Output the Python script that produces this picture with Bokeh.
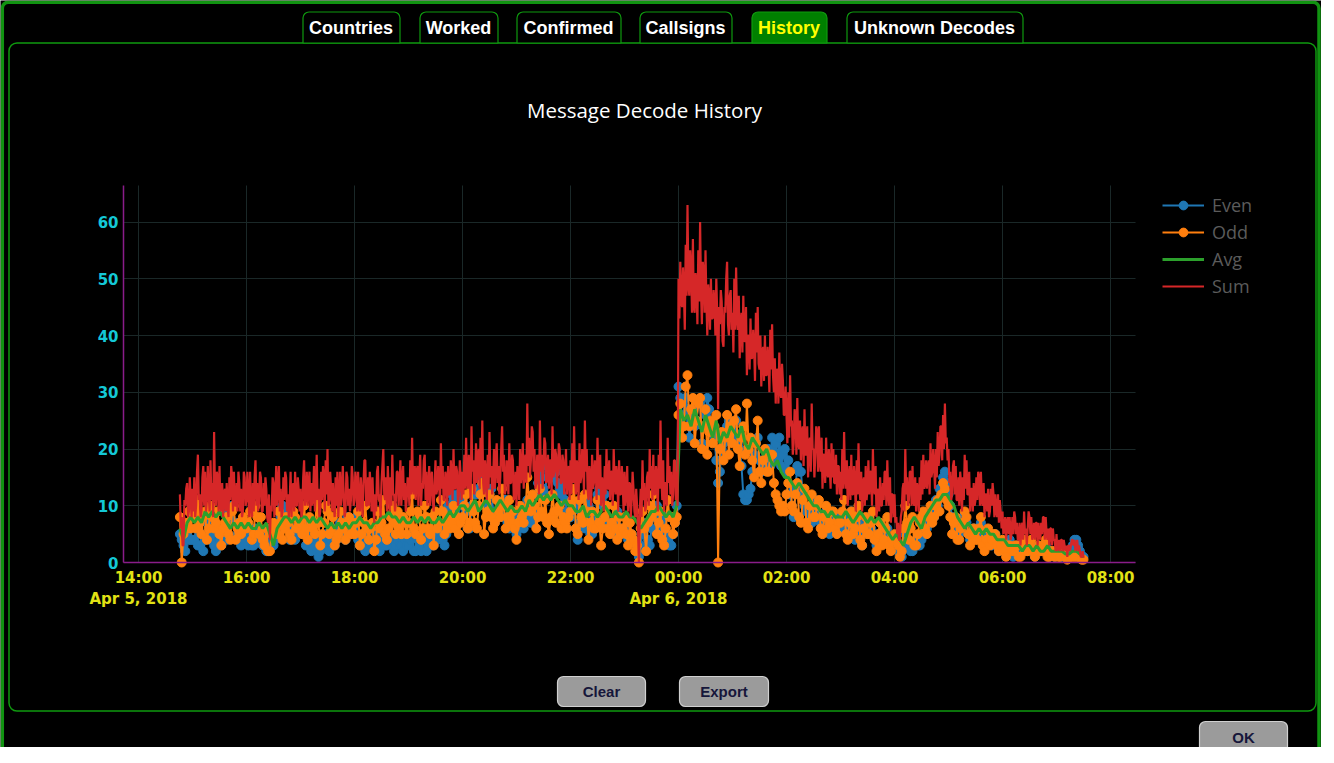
import pandas as pd
from bokeh.plotting import figure
from bokeh.models import (Range1d, DatetimeAxis, LinearAxis, FixedTicker, Grid,
                          Legend, LegendItem, BoxAnnotation, ColumnDataSource)
from bokeh.core.properties import value
from bokeh.embed import file_html
from bokeh.resources import INLINE

# ---------------- data -------------
# Sum: 1-minute slots from 14:46
sum_vals = ([12, 6, 8, 3, 3, 11, 10, 13, 14, 8, 9, 15, 11, 8] +
    [13, 9, 15, 8, 10, 16, 19, 11, 12, 8, 9, 15, 17, 10, 16, 9, 11, 17, 12, 9, 18, 11, 14, 8, 23, 12, 10, 16, 15, 9,
     17, 10, 9, 14, 8, 12, 13, 9, 14, 10, 8, 15, 11, 17, 15, 9, 16, 10, 10, 14, 9, 16, 14, 9, 13, 8, 9, 16, 15, 10] +
    [11, 16, 12, 8, 16, 10, 8, 14, 9, 15, 18, 10, 14, 9, 11, 16, 15, 9, 9, 14, 10, 15, 13, 8, 7, 12, 4, 10, 9, 15,
     14, 8, 12, 17, 10, 14, 17, 9, 13, 8, 9, 15, 11, 16, 15, 9, 12, 8, 11, 16, 8, 13, 14, 9, 16, 10, 10, 15, 13, 9] +
    [13, 8, 9, 15, 18, 10, 12, 16, 10, 14, 16, 9, 14, 10, 12, 17, 9, 13, 19, 11, 13, 8, 9, 16, 11, 17, 15, 9, 18, 12,
     20, 10, 11, 16, 13, 9, 14, 10, 8, 15, 10, 16, 8, 12, 16, 10, 12, 17, 12, 8, 9, 16, 15, 10, 13, 9, 11, 17, 15, 10] +
    [11, 16, 14, 9, 16, 10, 9, 15, 12, 8, 14, 18, 18, 10, 10, 15, 10, 16, 13, 9, 15, 10, 7, 12, 9, 16, 17, 11, 12, 8,
     14, 17, 20, 12, 11, 15, 9, 17, 13, 9, 15, 10, 19, 12, 12, 9, 11, 16, 16, 10, 13, 18, 10, 14, 17, 11, 14, 9, 11, 15] +
    [14, 10, 18, 12, 22, 13, 12, 17, 11, 16, 17, 10, 15, 19, 10, 14, 13, 18, 19, 11, 16, 10, 13, 17, 10, 15, 16, 11, 9, 14,
     18, 12, 13, 17, 14, 10, 21, 13, 17, 11, 11, 16, 15, 10, 17, 12, 12, 18, 15, 11, 20, 13, 13, 17, 16, 10, 12, 18, 15, 11] +
    [16, 12, 19, 13, 22, 14, 13, 19, 15, 11, 24, 16, 18, 12, 15, 21, 14, 19, 20, 13, 22, 15, 25, 14, 12, 18, 16, 11, 19, 13,
     23, 15, 17, 12, 14, 20, 13, 18, 21, 14, 17, 12, 15, 20, 24, 16, 19, 12, 13, 18, 17, 12, 21, 14, 14, 19, 18, 11, 12, 16] +
    [10, 17, 15, 11, 20, 14, 16, 21, 13, 18, 19, 14, 28, 17, 22, 15, 18, 24, 23, 16, 20, 13, 14, 19, 17, 12, 25, 16, 19, 13,
     17, 22, 21, 14, 15, 19, 13, 18, 18, 12, 24, 15, 16, 20, 19, 13, 16, 21, 20, 14, 14, 19, 18, 12, 15, 20, 12, 16, 17, 11] +
    [18, 12, 21, 14, 24, 15, 12, 18, 16, 11, 21, 14, 15, 20, 18, 12, 25, 16, 20, 13, 11, 17, 15, 10, 19, 13, 14, 18, 17, 11,
     22, 14, 13, 19, 10, 15, 14, 9, 17, 12, 20, 13, 13, 18, 11, 16, 16, 10, 20, 14, 12, 17, 15, 9, 18, 12, 12, 17, 14, 9] +
    [16, 10, 12, 17, 9, 14, 14, 8, 11, 16, 13, 9, 8, 13, 10, 6, 0, 9, 13, 8, 18, 11, 14, 9, 10, 15, 16, 10, 20, 13,
     17, 11, 19, 12, 12, 17, 15, 9, 19, 13, 25, 15, 11, 18, 9, 14, 14, 10, 22, 14, 17, 12, 16, 10, 12, 18, 18, 11, 16, 10] +
    [50, 43, 53, 46, 45, 52, 48, 41, 56, 47, 63, 49, 47, 55, 52, 44, 57, 45, 44, 51, 49, 42, 55, 46, 60, 48, 42, 53, 51, 44,
     55, 46, 40, 49, 47, 41, 50, 43, 43, 48, 46, 40, 50, 44, 27, 45, 42, 48, 46, 39, 38, 45, 44, 50, 53, 42, 40, 47, 48, 41] +
    [44, 37, 50, 41, 52, 43, 41, 47, 36, 42, 44, 37, 47, 39, 39, 45, 33, 40, 40, 34, 43, 36, 36, 41, 38, 32, 44, 37, 45, 35,
     34, 40, 31, 37, 38, 32, 40, 33, 33, 38, 35, 30, 41, 34, 42, 33, 30, 36, 28, 34, 34, 28, 37, 30, 29, 35, 32, 26, 26, 31] +
    [26, 21, 30, 22, 33, 24, 25, 19, 21, 27, 26, 19, 29, 21, 20, 25, 18, 23, 24, 17, 27, 19, 19, 24, 15, 21, 22, 16, 28, 20,
     20, 15, 19, 24, 23, 16, 24, 18, 16, 22, 13, 19, 19, 14, 22, 16, 15, 20, 17, 13, 21, 15, 20, 14, 14, 19, 12, 17, 17, 12] +
    [16, 11, 20, 13, 23, 15, 13, 18, 10, 15, 17, 11, 19, 12, 12, 17, 14, 9, 18, 12, 21, 13, 11, 16, 9, 14, 15, 10, 17, 11,
     13, 18, 12, 16, 16, 10, 20, 13, 12, 17, 8, 12, 13, 9, 15, 10, 10, 14, 11, 16, 16, 10, 18, 12, 10, 15, 7, 12, 12, 8] +
    [12, 7, 8, 5, 7, 4, 4, 8, 9, 13, 14, 9, 20, 12, 15, 10, 11, 16, 16, 10, 17, 11, 10, 15, 9, 14, 13, 9, 15, 11,
     18, 12, 19, 13, 14, 18, 13, 17, 18, 12, 21, 15, 16, 20, 17, 13, 20, 15, 23, 17, 19, 24, 24, 18, 26, 20, 28, 21, 22, 18] +
    [20, 14, 16, 11, 12, 17, 18, 12, 17, 11, 11, 15, 10, 16, 14, 9, 15, 11, 19, 13, 18, 12, 12, 16, 9, 13, 13, 9, 14, 10,
     11, 15, 11, 16, 15, 10, 16, 11, 10, 14, 8, 12, 12, 9, 13, 8, 9, 13, 10, 14, 12, 8, 12, 9, 8, 12, 7, 11, 9, 6] +
    [9, 5, 6, 8, 4, 7, 8, 5, 8, 4, 5, 8, 5, 9, 8, 5, 7, 4, 4, 7, 3, 6, 7, 4, 9, 5, 6, 3, 6, 9,
     8, 5, 8, 4, 5, 7, 4, 7, 7, 3, 7, 5, 4, 7, 5, 8, 8, 4, 8, 5, 4, 6, 3, 6, 6, 3, 6, 4, 4, 2] +
    [5, 2, 3, 4, 2, 4, 4, 2, 4, 3, 2, 3, 1, 3, 3, 2, 3, 4, 4, 3, 4, 2, 3, 4, 2, 3, 2, 1, 1, 2, 1, 1])

# Odd and Even: 2-minute slots from 14:46
odd_vals = ([8, 0, 5, 7, 6, 9, 6] +
    [8, 9, 6, 11, 7, 5, 8, 9, 4, 6, 10, 8, 6, 7, 9, 5, 3, 6, 7, 8, 5, 4, 9, 10, 4, 6, 7, 5, 8, 6] +
    [6, 7, 9, 4, 5, 10, 8, 5, 8, 4, 3, 6, 2, 2, 5, 7, 6, 5, 9, 7, 4, 6, 8, 7, 5, 4, 9, 8, 6, 7] +
    [7, 5, 10, 6, 4, 8, 7, 6, 5, 11, 7, 3, 5, 7, 10, 9, 5, 6, 8, 3, 4, 5, 9, 7, 6, 4, 7, 8, 5, 7] +
    [5, 7, 9, 3, 5, 7, 10, 6, 4, 6, 7, 2, 4, 9, 6, 7, 11, 5, 4, 6, 8, 10, 7, 5, 9, 6, 5, 8, 7, 5] +
    [7, 9, 12, 6, 5, 9, 8, 4, 6, 10, 8, 6, 5, 8, 3, 9, 6, 7, 11, 9, 5, 7, 8, 6, 7, 10, 6, 8, 5, 7] +
    [8, 10, 12, 6, 7, 13, 9, 7, 6, 10, 12, 14, 5, 8, 9, 12, 8, 6, 7, 11, 9, 8, 13, 10, 6, 8, 11, 7, 9, 6] +
    [4, 7, 10, 8, 7, 9, 15, 11, 9, 12, 10, 6, 8, 13, 9, 8, 11, 7, 5, 8, 12, 9, 7, 9, 10, 6, 8, 7, 6, 8] +
    [9, 11, 13, 6, 5, 11, 8, 7, 12, 9, 4, 7, 9, 6, 6, 11, 7, 3, 6, 8, 10, 6, 5, 7, 10, 6, 4, 8, 5, 6] +
    [8, 5, 3, 7, 5, 4, 2, 3, 0, 6, 9, 6, 2, 7, 10, 8, 12, 9, 5, 7, 9, 4, 3, 6, 11, 8, 8, 5, 7, 8] +
    [26, 28, 22, 24, 31, 33, 24, 27, 29, 21, 25, 28, 29, 20, 24, 27, 19, 23, 25, 21, 24, 26, 0, 20, 23, 18, 22, 26, 19, 24] +
    [21, 25, 27, 20, 17, 22, 24, 19, 28, 20, 22, 18, 15, 21, 25, 16, 14, 18, 20, 16, 16, 19, 19, 14, 12, 11, 10, 9, 10, 9] +
    [12, 14, 16, 10, 9, 12, 14, 8, 7, 11, 13, 7, 6, 10, 12, 8, 8, 10, 11, 6, 5, 8, 10, 6, 7, 9, 9, 6, 5, 7] +
    [7, 9, 11, 5, 4, 7, 9, 5, 6, 8, 10, 4, 3, 6, 8, 5, 5, 7, 9, 4, 2, 5, 7, 3, 4, 6, 8, 3, 2, 4] +
    [5, 4, 3, 1, 2, 6, 10, 7, 4, 6, 8, 3, 3, 5, 7, 8, 9, 6, 5, 8, 10, 7, 8, 10, 11, 9, 12, 14, 13, 11] +
    [10, 8, 5, 7, 8, 4, 4, 6, 7, 9, 8, 5, 3, 5, 6, 4, 4, 6, 8, 3, 2, 4, 6, 3, 4, 5, 5, 3, 2, 3] +
    [4, 2, 1, 3, 3, 2, 2, 3, 3, 1, 1, 3, 4, 2, 2, 3, 4, 2, 1, 2, 3, 2, 2, 3, 4, 1, 1, 2, 2, 1] +
    [2, 1, 1, 2, 2, 1, 0.5, 1, 1, 1, 1, 1, 1, 1, 0.5, 0.5])

even_vals = ([5, 4, 3, 2, 5, 4, 4] +
    [4, 4, 6, 3, 3, 5, 2, 4, 7, 5, 4, 5, 3, 2, 6, 4, 3, 5, 6, 4, 9, 8, 10, 7, 7, 5, 4, 3, 5, 4] +
    [5, 3, 4, 3, 3, 6, 4, 5, 5, 3, 3, 2, 2, 4, 5, 3, 4, 5, 9, 8, 10, 9, 8, 6, 4, 5, 6, 4, 5, 6] +
    [6, 5, 5, 3, 3, 7, 2, 3, 4, 2, 1, 2, 3, 4, 5, 3, 2, 4, 6, 3, 4, 5, 7, 6, 5, 4, 8, 6, 7, 6] +
    [6, 8, 4, 3, 3, 5, 2, 3, 4, 3, 3, 4, 5, 3, 2, 4, 4, 3, 3, 4, 5, 3, 2, 3, 4, 3, 3, 2, 4, 3] +
    [3, 4, 5, 2, 2, 4, 3, 2, 5, 4, 2, 3, 4, 3, 3, 5, 4, 5, 6, 4, 3, 5, 10, 8, 12, 11, 9, 12, 10, 11] +
    [11, 10, 9, 6, 6, 10, 13, 12, 12, 13, 15, 14, 14, 13, 10, 12, 13, 9, 7, 8, 9, 10, 8, 11, 11, 7, 6, 8, 7, 6] +
    [5, 6, 8, 7, 6, 9, 11, 8, 7, 10, 9, 12, 14, 16, 15, 13, 12, 17, 17, 15, 15, 16, 16, 14, 13, 12, 14, 11, 9, 8] +
    [8, 9, 10, 6, 4, 7, 9, 8, 6, 11, 10, 5, 5, 7, 8, 12, 13, 14, 10, 12, 10, 7, 7, 6, 5, 7, 9, 6, 6, 5] +
    [6, 5, 4, 5, 5, 4, 3, 2, 1, 3, 5, 6, 7, 4, 3, 6, 8, 9, 10, 8, 6, 7, 8, 5, 4, 3, 3, 5, 7, 10] +
    [31, 29, 24, 26, 29, 27, 22, 25, 27, 24, 25, 28, 28, 21, 24, 26, 29, 27, 24, 23, 22, 18, 14, 16, 20, 21, 22, 24, 25, 23] +
    [22, 23, 25, 21, 20, 17, 12, 11, 11, 12, 13, 16, 19, 21, 22, 18, 16, 17, 18, 19, 20, 17, 22, 19, 21, 18, 22, 17, 19, 20] +
    [16, 18, 12, 10, 8, 13, 17, 16, 16, 12, 10, 9, 9, 8, 7, 9, 11, 10, 8, 7, 6, 8, 9, 7, 5, 6, 7, 8, 8, 6] +
    [6, 7, 8, 6, 5, 7, 9, 6, 4, 5, 7, 5, 3, 5, 6, 7, 8, 6, 5, 4, 3, 5, 7, 5, 4, 5, 6, 4, 3, 3] +
    [3, 3, 2, 2, 1, 3, 5, 4, 3, 2, 2, 3, 4, 3, 3, 4, 5, 6, 6, 7, 7, 9, 8, 11, 10, 13, 12, 15, 16, 14] +
    [12, 10, 8, 7, 6, 5, 5, 7, 8, 7, 7, 5, 4, 5, 6, 5, 5, 6, 7, 5, 4, 5, 5, 4, 3, 4, 5, 3, 2, 3] +
    [3, 3, 2, 3, 4, 2, 1, 2, 3, 3, 2, 3, 4, 3, 2, 2, 3, 2, 1, 2, 3, 2, 2, 3, 3, 2, 1, 2, 2, 1] +
    [2, 2, 1, 1, 2, 1, 1, 2, 2, 3, 4, 4, 3, 2, 1, 1])

# Avg (running average): 4-minute slots from 14:46
avg_vals = ([6, 4, 7, 8] +
    [7, 8, 7, 9, 8, 9, 8, 9, 8, 7, 6, 7, 6, 7, 6] +
    [7, 6, 6, 7, 6, 7, 5, 3, 6, 7, 8, 8, 7, 8, 7] +
    [8, 8, 7, 8, 7, 8, 7, 6, 7, 6, 7, 6, 7, 6, 7] +
    [7, 8, 7, 7, 6, 7, 7, 8, 8, 9, 8, 8, 7, 8, 7] +
    [7, 8, 7, 8, 7, 8, 7, 7, 8, 7, 8, 9, 8, 9, 10] +
    [10, 9, 10, 11, 9, 10, 11, 10, 9, 10, 11, 10, 9, 10, 9] +
    [9, 10, 9, 11, 10, 11, 12, 11, 12, 11, 12, 11, 10, 11, 10] +
    [10, 9, 9, 10, 8, 9, 9, 8, 9, 10, 9, 8, 9, 8, 8] +
    [9, 8, 8, 7, 6, 7, 8, 9, 9, 10, 9, 8, 9, 8, 10] +
    [27, 25, 26, 24, 27, 25, 23, 26, 24, 22, 25, 21, 23, 22, 24] +
    [23, 22, 24, 21, 20, 22, 21, 20, 19, 20, 18, 17, 18, 16, 15] +
    [15, 14, 13, 14, 13, 12, 11, 10, 10, 9, 9, 8, 9, 8, 8] +
    [8, 9, 8, 7, 8, 9, 8, 7, 8, 7, 8, 7, 6, 5, 4] +
    [5, 4, 3, 5, 7, 8, 7, 6, 8, 9, 10, 11, 11, 12, 12] +
    [11, 10, 8, 7, 6, 7, 6, 5, 6, 5, 6, 5, 5, 4, 4] +
    [4, 3, 3, 3, 3, 2, 3, 3, 2, 3, 2, 2, 3, 2, 2] +
    [2, 2, 1.5, 1.5, 2, 2, 1.5, 1])

series_names = ["Even", "Odd", "Avg", "Sum"]
x_tick_times = pd.date_range("2018-04-05 14:00", periods=10, freq="2h")
x_tick_labels = ["14:00\nApr 5, 2018", "16:00", "18:00", "20:00", "22:00",
                 "00:00\nApr 6, 2018", "02:00", "04:00", "06:00", "08:00"]
y_ticks = [0, 10, 20, 30, 40, 50, 60]
tab_names = ["Countries", "Worked", "Confirmed", "Callsigns", "History", "Unknown Decodes"]
button_names = ["Clear", "Export", "OK"]
title_text = "Message Decode History"

def ms(index):
    return [t.value / 1e6 for t in index]

n = min(len(odd_vals), len(even_vals))
eo_ms = ms(pd.date_range("2018-04-05 14:46", periods=n, freq="2min"))
sum_ms = ms(pd.date_range("2018-04-05 14:46", periods=len(sum_vals), freq="1min"))
avg_ms = ms(pd.date_range("2018-04-05 14:46", periods=len(avg_vals), freq="4min"))

# ---------------- layout constants (canvas pixels) ----------------
W, H = 1321, 747
X14_PX, PX_PER_H = 138.0, 54.0          # canvas x of 14:00, pixels per hour
Y0_PX, PX_PER_UNIT = 562.0, 5.675       # canvas y (from top) of value 0, pixels per unit
CH_L, CH_R, CH_T = 123.0, 1135.0, 185.0  # chart frame edges (canvas)
HOUR = 3600_000.0
t14 = pd.Timestamp("2018-04-05 14:00").value / 1e6

def px_to_t(px):
    return t14 + (px - X14_PX) / PX_PER_H * HOUR

def py_to_v(py):
    return (Y0_PX - py) / PX_PER_UNIT

chart_t0, chart_t1 = px_to_t(CH_L), px_to_t(CH_R)
chart_top = py_to_v(CH_T)

p = figure(width=W, height=H, output_backend="svg", toolbar_location=None,
           x_range=Range1d(px_to_t(0), px_to_t(W)), y_range=Range1d(py_to_v(H), py_to_v(0)),
           x_axis_type="datetime", x_axis_location=None, y_axis_location=None,
           min_border=0, background_fill_color="black", border_fill_color="black",
           outline_line_color=None)
p.min_border_left = p.min_border_right = p.min_border_top = p.min_border_bottom = 0
p.center = [r for r in p.center if not isinstance(r, Grid)]
p.extra_x_ranges = {"px": Range1d(0, W)}
p.extra_y_ranges = {"px": Range1d(H, 0)}

# ---------------- axes ----------------
xticks = [int(t.value // 10**6) for t in x_tick_times]
xaxis = DatetimeAxis(ticker=FixedTicker(ticks=xticks), fixed_location=0,
                     bounds=(chart_t0, chart_t1),
                     major_label_overrides={k: lab for k, lab in zip(xticks, x_tick_labels)})
yaxis = LinearAxis(ticker=FixedTicker(ticks=y_ticks), fixed_location=chart_t0,
                   bounds=(0, chart_top))
for ax, col in ((xaxis, "#e2e214"), (yaxis, "#14c8d6")):
    ax.axis_line_color = "#8a1c8a"
    ax.axis_line_width = 1.5
    ax.major_tick_line_color = None
    ax.minor_tick_line_color = None
    ax.major_tick_out = 0
    ax.major_tick_in = 0
    ax.major_label_text_color = col
    ax.major_label_text_font = "DejaVu Sans"
    ax.major_label_text_font_style = "bold"
    ax.major_label_text_font_size = "15px"
xaxis.major_label_standoff = 6
xaxis.major_label_text_line_height = 1.2
yaxis.major_label_standoff = 5
p.add_layout(xaxis, "below")
p.add_layout(yaxis, "left")

GRID_COLOR = "#1a2828"
if "cross_bounds" in Grid.properties():
    xgrid = Grid(dimension=0, ticker=xaxis.ticker, grid_line_color=GRID_COLOR,
                 bounds=(chart_t0, chart_t1), cross_bounds=(0, chart_top))
    ygrid = Grid(dimension=1, ticker=yaxis.ticker, grid_line_color=GRID_COLOR,
                 bounds=(0, chart_top), cross_bounds=(chart_t0, chart_t1))
    p.add_layout(xgrid)
    p.add_layout(ygrid)
else:
    p.segment(x0=xticks, y0=0, x1=xticks, y1=chart_top, line_color=GRID_COLOR, line_width=1)
    p.segment(x0=chart_t0, y0=y_ticks, x1=chart_t1, y1=y_ticks, line_color=GRID_COLOR, line_width=1)

# ---------------- data renderers ----------------
eo_src = ColumnDataSource(dict(t=eo_ms, even=even_vals[:n], odd=odd_vals[:n]))
sum_src = ColumnDataSource(dict(t=sum_ms, sum=sum_vals))
avg_src = ColumnDataSource(dict(t=avg_ms, avg=avg_vals))
BLUE, ORANGE, GREEN, RED = "#1f77b4", "#ff7f0e", "#2ca02c", "#d62728"
le = p.line("t", "even", source=eo_src, line_color=BLUE, line_width=2)
se = p.scatter("t", "even", source=eo_src, size=9, fill_color=BLUE, line_color=BLUE)
lo = p.line("t", "odd", source=eo_src, line_color=ORANGE, line_width=2)
so = p.scatter("t", "odd", source=eo_src, size=9, fill_color=ORANGE, line_color=ORANGE)
la = p.line("t", "avg", source=avg_src, line_color=GREEN, line_width=3)
ls = p.line("t", "sum", source=sum_src, line_color=RED, line_width=2.2)

legend = Legend(items=[LegendItem(label=series_names[0], renderers=[le, se]),
                       LegendItem(label=series_names[1], renderers=[lo, so]),
                       LegendItem(label=series_names[2], renderers=[la]),
                       LegendItem(label=series_names[3], renderers=[ls])],
                location=(1162, 449), glyph_width=42, glyph_height=22, label_height=22,
                label_standoff=8, spacing=3, padding=0, margin=0,
                border_line_color=None, background_fill_alpha=0,
                label_text_font="Open Sans", label_text_font_size="18px",
                label_text_color="#5b5b5b")
p.add_layout(legend)

# ---------------- window chrome (canvas pixel coordinates) ----------------
has_radius = "border_radius" in BoxAnnotation.properties()
GREEN_UI = "#0f9a0f"

def box(l, r, t, b, fill=None, line=GREEN_UI, lw=1.5, radius=0):
    kw = dict(left=l, right=r, top=t, bottom=b, x_range_name="px", y_range_name="px",
              line_color=line, line_width=lw, line_alpha=1.0, level="underlay")
    if fill is None:
        kw["fill_alpha"] = 0
    else:
        kw["fill_color"] = fill
        kw["fill_alpha"] = 1
    if has_radius and radius:
        kw["border_radius"] = radius
    p.add_layout(BoxAnnotation(**kw))

box(1.8, 1318.5, 1.8, 775, line="#119311", lw=3.5, radius=6)        # outer window
box(8.5, 1315.5, 42.5, 710.5, line=GREEN_UI, lw=1.5, radius=8)      # tab panel
tab_edges = [(302, 399), (419, 497), (516, 620), (639, 731), (751, 826), (846, 1022)]
active = 4
for i, (l, r) in enumerate(tab_edges):
    box(l + 0.5, r + 0.5, 11.5, 42.5, fill="#008000" if i == active else "black",
        line=GREEN_UI, lw=1.2, radius=(6, 6, 0, 0))
p.text(x=[(l + r) / 2 for l, r in tab_edges], y=[27] * len(tab_edges), text=tab_names,
       x_range_name="px", y_range_name="px", text_align="center", text_baseline="middle",
       text_font=value("Liberation Sans"), text_font_style="bold", text_font_size="18px",
       text_color=["#ffff00" if i == active else "white" for i in range(len(tab_names))])

btn_boxes = [(557, 645, 676, 706), (679, 768, 676, 706), (1199, 1287, 721, 752)]
for l, r, t, b in btn_boxes:
    box(l, r, t, b, fill="#9b9b9b", line="#d0d0d0", lw=1.2, radius=6)
p.text(x=[(b[0] + b[1]) / 2 for b in btn_boxes], y=[(b[2] + b[3]) / 2 for b in btn_boxes],
       text=button_names, x_range_name="px", y_range_name="px", text_align="center",
       text_baseline="middle", text_font=value("Liberation Sans"), text_font_style="bold",
       text_font_size="15px", text_color="#16163a")

p.text(x=[644], y=[109], text=[title_text], x_range_name="px", y_range_name="px",
       text_align="center", text_baseline="middle", text_font=value("Open Sans"),
       text_font_size="20.5px", text_color="white")

open("out.html", "w").write(file_html(p, INLINE))
